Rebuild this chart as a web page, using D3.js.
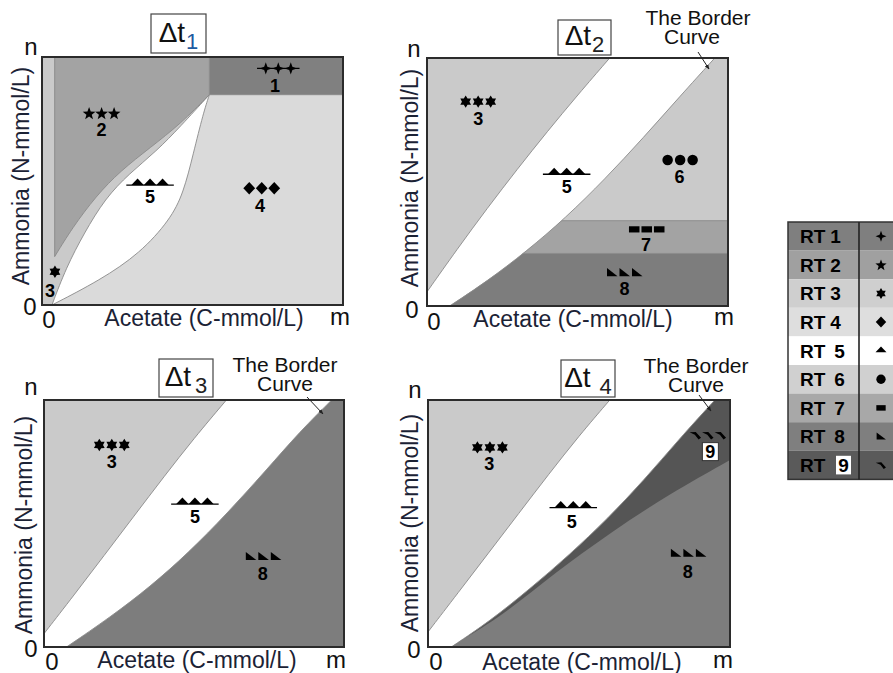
<!DOCTYPE html>
<html><head><meta charset="utf-8">
<script src="https://cdn.jsdelivr.net/npm/d3@7"></script>
<style>body{margin:0;background:#fff}svg{display:block;font-family:"Liberation Sans",Arial,Helvetica,sans-serif}</style>
</head><body><svg id="c" width="893" height="673"></svg>
<script>
// ---------------- DATA (in fractions of m and n) ----------------
const regimes = ["RT 1","RT 2","RT 3","RT 4","RT 5","RT 6","RT 7","RT 8","RT 9"];
const regimeGlyphs = ["sparkle","star","hexagram","diamond","triangle","circle","square","wedge","fin"];
const panelSubscripts = ["1","2","3","4"];
const xAxisLabel = "Acetate (C-mmol/L)";
const yAxisLabel = "Ammonia (N-mmol/L)";
const xTickLabels = ["0","m"];
const yTickLabels = ["0","n"];
const borderCurveLabel = ["The Border","Curve"];

// Δt1 boundaries
const p1_rt1Corner = [0.556, 0.848];
const p1_stripX = 0.042;
const p1_rt2Lower = [[0.042,0.195],[0.10,0.31],[0.18,0.44],[0.26,0.54],[0.36,0.635],[0.46,0.73],[0.556,0.848]];
const p1_lensUpper = [[0.033,0.0],[0.08,0.15],[0.14,0.29],[0.21,0.43],[0.29,0.53],[0.38,0.62],[0.46,0.72],[0.556,0.848]];
const p1_lensLower = [[0.033,0.0],[0.193,0.10],[0.326,0.209],[0.425,0.343],[0.47,0.451],[0.503,0.612],[0.536,0.774],[0.556,0.848]];
// Δt2 boundaries
const p2_rt3Bound = [[0,0.057],[0.1,0.229],[0.2,0.394],[0.3,0.552],[0.4,0.704],[0.5,0.85],[0.607,1.0]];
const p2_border = [[0.075,0],[0.2,0.1],[0.33,0.22],[0.46,0.355],[0.59,0.51],[0.72,0.68],[0.84,0.845],[0.956,1.0]];
const p2_rt7Band = [0.212, 0.344];
// Δt3 boundaries
const p3_rt3Bound = [[0,0.054],[0.1,0.21],[0.2,0.37],[0.3,0.53],[0.4,0.69],[0.5,0.845],[0.608,1.0]];
const p3_border = [[0.075,0],[0.22,0.12],[0.355,0.245],[0.48,0.38],[0.61,0.54],[0.74,0.715],[0.855,0.875],[0.959,1.0]];
// Δt4 boundaries
const p4_rt3Bound = [[0,0.061],[0.1,0.22],[0.2,0.38],[0.3,0.54],[0.4,0.70],[0.5,0.855],[0.602,1.0]];
const p4_border = [[0.077,0],[0.205,0.105],[0.337,0.235],[0.47,0.375],[0.595,0.52],[0.715,0.675],[0.83,0.84],[0.95,1.0]];
const p4_rt8Upper = [[0.10,0.02],[0.25,0.13],[0.42,0.30],[0.60,0.46],[0.80,0.62],[1.0,0.757]];

// regime labels: [regime, count, markerX, markerY, numberX, numberY]
const p1_labels = [[1,3,0.785,0.954,0.774,0.883],[2,3,0.198,0.773,0.198,0.706],[5,3,0.359,0.491,0.359,0.437],[4,3,0.73,0.471,0.724,0.403],[3,1,0.043,0.134,0.027,0.06]];
const p2_labels = [[3,3,0.17,0.824,0.17,0.757],[5,3,0.464,0.539,0.464,0.481],[6,3,0.841,0.589,0.839,0.521],[7,3,0.73,0.309,0.728,0.246],[8,3,0.656,0.134,0.656,0.071]];
const p3_labels = [[3,3,0.226,0.818,0.226,0.75],[5,3,0.503,0.586,0.503,0.528],[8,3,0.731,0.366,0.729,0.298]];
const p4_labels = [[3,3,0.205,0.808,0.203,0.744],[5,3,0.481,0.572,0.476,0.507],[8,3,0.862,0.379,0.86,0.305],[9,3,0.927,0.858,0.935,0.791]];

// ---------------- STYLE / LAYOUT ----------------
const fillOf = {1:"#808080",2:"#a3a3a3",3:"#cacaca",4:"#dadada",5:"#ffffff",6:"#cacaca",7:"#a3a3a3",8:"#7d7d7d",9:"#555555"};
const legendFill = {1:"#7f7f7f",2:"#a0a0a0",3:"#cfcfcf",4:"#dedede",5:"#ffffff",6:"#d0d0d0",7:"#a8a8a8",8:"#7f7f7f",9:"#5a5a5a"};
const layout = [
  {rect:[42,57,301,248], box:[151,14,55,39], subColor:"#1e5aa0", subGap:1,
   yl:[29,176], xl:[204,326], n:[31,55], z1:[30,315], z2:[49,328], m:[340,325], border:null},
  {rect:[427,58,301,248], box:[558,20,53,35], subColor:"#222", subGap:1,
   yl:[418,178], xl:[573,327], n:[414,57], z1:[412,318], z2:[434,330], m:[724,325],
   border:{t:[698,25,692,44], a:[698,52,709,69]}},
  {rect:[44,400,300,247], box:[159,359,54,38], subColor:"#222", subGap:4,
   yl:[32,525], xl:[197,668], n:[31,395], z1:[31,657], z2:[52,670], m:[336,668],
   border:{t:[285,372,285,391], a:[307,397,323,414]}},
  {rect:[428,400,302,247], box:[561,360,54,37], subColor:"#222", subGap:9,
   yl:[418,523], xl:[582,670], n:[415,398], z1:[414,658], z2:[436,670], m:[723,668],
   border:{t:[696,373,696,392], a:[699,395,711,411]}}
];
const axisColor = "#1b2235";
const edgeStroke = "#8a8a8a";

const svg = d3.select("#c");
const defs = svg.append("defs");
defs.append("marker").attr("id","arr").attr("viewBox","0 0 10 10").attr("refX",9).attr("refY",5)
  .attr("markerWidth",5).attr("markerHeight",5).attr("orient","auto")
  .append("path").attr("d","M0,1L10,5L0,9Z").attr("fill","#222");

function scales(r){
  return {x:d3.scaleLinear([0,1],[r[0],r[0]+r[2]]), y:d3.scaleLinear([0,1],[r[1]+r[3],r[1]])};
}
function ring(s, pieces){
  return pieces.map((pc,i)=>{
    const g = d3.line().x(d=>s.x(d[0])).y(d=>s.y(d[1]))
      .curve(pc.smooth ? d3.curveBasis : d3.curveLinear);
    const str = g(pc.pts);
    return i ? str.replace(/^M/,"L") : str;
  }).join("") + "Z";
}
function open(s, pts, smooth){
  return d3.line().x(d=>s.x(d[0])).y(d=>s.y(d[1]))
    .curve(smooth ? d3.curveBasis : d3.curveLinear)(pts);
}
function poly(p, pts){ p.moveTo(pts[0][0],pts[0][1]); pts.slice(1).forEach(q=>p.lineTo(q[0],q[1])); p.closePath(); }
function glyph(kind, r){
  const p = d3.path();
  if(kind==="sparkle"){ const a=r*0.26; poly(p,[[0,-r],[a,-a],[r,0],[a,a],[0,r],[-a,a],[-r,0],[-a,-a]]); }
  else if(kind==="star"){ const pts=[]; const R=r*1.08; for(let i=0;i<10;i++){const ang=-Math.PI/2+i*Math.PI/5, rr=i%2?R*0.42:R; pts.push([rr*Math.cos(ang),rr*Math.sin(ang)+r*0.08]);} poly(p,pts); }
  else if(kind==="hexagram"){ const pts=[]; for(let i=0;i<12;i++){const ang=-Math.PI/2+i*Math.PI/6, rr=i%2?r*0.6:r; pts.push([rr*Math.cos(ang),rr*Math.sin(ang)]);} poly(p,pts); }
  else if(kind==="diamond"){ poly(p,[[0,-r],[r*0.95,0],[0,r],[-r*0.95,0]]); }
  else if(kind==="triangle"){ poly(p,[[-r,r*0.3],[0,-r*0.75],[r,r*0.3]]); }
  else if(kind==="circle"){ p.arc(0,0,r*0.85,0,2*Math.PI); }
  else if(kind==="square"){ p.rect(-r*0.85,-r*0.5,r*1.7,r*1.0); }
  else if(kind==="wedge"){ poly(p,[[-r*0.8,-r*0.75],[-r*0.8,r*0.55],[r*0.9,r*0.55]]); }
  else if(kind==="fin"){ poly(p,[[-r*0.95,-r*0.45],[r*0.05,-r*0.5],[r*0.9,r*0.45],[r*0.5,r*0.7],[-r*0.1,-r*0.05]]); }
  return p.toString();
}
function markerSet(g, cx, cy, rt, count){
  const kind = regimeGlyphs[rt-1], sp = 12.5, r = 6.2;
  if(rt===1 && count>1) g.append("line").attr("x1",cx-1.7*sp).attr("x2",cx+1.7*sp).attr("y1",cy).attr("y2",cy).attr("stroke","#000").attr("stroke-width",1.4);
  if(rt===5 && count>1) g.append("line").attr("x1",cx-1.9*sp).attr("x2",cx+1.9*sp).attr("y1",cy+r*0.3).attr("y2",cy+r*0.3).attr("stroke","#000").attr("stroke-width",1.4);
  for(let k=0;k<count;k++){
    const dx = (k-(count-1)/2)*sp;
    g.append("path").attr("d",glyph(kind,r)).attr("transform",`translate(${cx+dx},${cy})`).attr("fill","#000");
  }
}
function regimeLabels(g, s, labels){
  labels.forEach(([rt,count,mx,my,tx,ty])=>{
    markerSet(g, s.x(mx), s.y(my), rt, count);
    if(rt===9){
      g.append("rect").attr("x",s.x(tx)-8).attr("y",s.y(ty)-9).attr("width",16).attr("height",18)
        .attr("fill","#fff").attr("stroke","#333").attr("stroke-width",1);
    }
    g.append("text").attr("x",s.x(tx)).attr("y",s.y(ty)).attr("dy","0.36em").attr("text-anchor","middle")
      .attr("font-size",18).attr("font-weight","bold").attr("fill","#000").text(String(rt));
  });
}
function frame(i){
  const L = layout[i], r = L.rect, s = scales(r);
  const g = svg.append("g");
  const cid = "clip"+i;
  defs.append("clipPath").attr("id",cid).append("rect").attr("x",r[0]).attr("y",r[1]).attr("width",r[2]).attr("height",r[3]);
  const plot = g.append("g").attr("clip-path",`url(#${cid})`);
  return {L, r, s, g, plot};
}
function decorations(i, P){
  const {L, r, g} = P;
  g.append("rect").attr("x",r[0]).attr("y",r[1]).attr("width",r[2]).attr("height",r[3])
    .attr("fill","none").attr("stroke","#2b2b2b").attr("stroke-width",2);
  const b = L.box;
  g.append("rect").attr("x",b[0]).attr("y",b[1]).attr("width",b[2]).attr("height",b[3])
    .attr("fill","#fff").attr("stroke","#444").attr("stroke-width",1.2);
  const t = g.append("text").attr("x",b[0]+b[2]/2).attr("y",b[1]+b[3]*0.72).attr("text-anchor","middle").attr("fill","#111");
  t.append("tspan").attr("font-size",28).text("Δt");
  t.append("tspan").attr("font-size",22).attr("dx",L.subGap).attr("dy",7).attr("fill",L.subColor).text(panelSubscripts[i]);
  g.append("text").attr("transform",`translate(${L.yl[0]},${L.yl[1]}) rotate(-90)`).attr("text-anchor","middle")
    .attr("font-size",23).attr("fill",axisColor).text(yAxisLabel);
  g.append("text").attr("x",L.xl[0]).attr("y",L.xl[1]).attr("text-anchor","middle")
    .attr("font-size",23).attr("fill",axisColor).text(xAxisLabel);
  g.append("text").attr("x",L.n[0]).attr("y",L.n[1]).attr("text-anchor","middle").attr("font-size",24).attr("fill","#111").text(yTickLabels[1]);
  g.append("text").attr("x",L.z1[0]).attr("y",L.z1[1]).attr("text-anchor","middle").attr("font-size",24).attr("fill","#111").text(yTickLabels[0]);
  g.append("text").attr("x",L.z2[0]).attr("y",L.z2[1]).attr("text-anchor","middle").attr("font-size",24).attr("fill","#111").text(xTickLabels[0]);
  g.append("text").attr("x",L.m[0]).attr("y",L.m[1]).attr("text-anchor","middle").attr("font-size",24).attr("fill","#111").text(xTickLabels[1]);
  if(L.border){
    const bt = L.border.t, a = L.border.a;
    g.append("text").attr("x",bt[0]).attr("y",bt[1]).attr("text-anchor","middle").attr("font-size",21).attr("fill","#111").text(borderCurveLabel[0]);
    g.append("text").attr("x",bt[2]).attr("y",bt[3]).attr("text-anchor","middle").attr("font-size",21).attr("fill","#111").text(borderCurveLabel[1]);
    g.append("line").attr("x1",a[0]).attr("y1",a[1]).attr("x2",a[2]).attr("y2",a[3])
      .attr("stroke","#222").attr("stroke-width",1).attr("marker-end","url(#arr)");
  }
}
function strokeCurve(plot, s, pts, smooth){
  plot.append("path").attr("d",open(s,pts,smooth)).attr("fill","none").attr("stroke",edgeStroke).attr("stroke-width",0.9);
}

// ---------- Panel Δt1 ----------
(function(){
  const P = frame(0), s = P.s, pl = P.plot;
  const c = p1_rt1Corner;
  pl.append("rect").attr("x",P.r[0]).attr("y",P.r[1]).attr("width",P.r[2]).attr("height",P.r[3]).attr("fill",fillOf[4]);
  pl.append("path").attr("fill",fillOf[3]).attr("d",ring(s,[{pts:p1_lensUpper,smooth:true},{pts:[c,[c[0],1],[0,1],[0,0]]}]));
  pl.append("path").attr("fill",fillOf[2]).attr("d",ring(s,[{pts:p1_rt2Lower,smooth:true},{pts:[c,[c[0],1],[p1_stripX,1]]}]));
  pl.append("path").attr("fill",fillOf[1]).attr("d",ring(s,[{pts:[c,[1,c[1]],[1,1],[c[0],1]]}]));
  pl.append("path").attr("fill",fillOf[5]).attr("d",ring(s,[{pts:p1_lensUpper,smooth:true},{pts:p1_lensLower.slice().reverse(),smooth:true}]));
  strokeCurve(pl,s,p1_rt2Lower,true);
  strokeCurve(pl,s,p1_lensUpper,true);
  strokeCurve(pl,s,p1_lensLower,true);
  strokeCurve(pl,s,[[p1_stripX,p1_rt2Lower[0][1]],[p1_stripX,1]],false);
  strokeCurve(pl,s,[[c[0],1],c,[1,c[1]]],false);
  regimeLabels(P.g,s,p1_labels);
  decorations(0,P);
})();

// ---------- Panel Δt2 ----------
(function(){
  const P = frame(1), s = P.s, pl = P.plot;
  pl.append("rect").attr("x",P.r[0]).attr("y",P.r[1]).attr("width",P.r[2]).attr("height",P.r[3]).attr("fill",fillOf[5]);
  const last3 = p2_rt3Bound[p2_rt3Bound.length-1];
  pl.append("path").attr("fill",fillOf[3]).attr("d",ring(s,[{pts:p2_rt3Bound,smooth:true},{pts:[last3,[0,1]]}]));
  const lb = p2_border[p2_border.length-1];
  const rightD = ring(s,[{pts:p2_border,smooth:true},{pts:[lb,[1,1],[1,0]]}]);
  defs.append("clipPath").attr("id","right2").append("path").attr("d",rightD);
  pl.append("path").attr("fill",fillOf[6]).attr("d",rightD);
  const rg = pl.append("g").attr("clip-path","url(#right2)");
  rg.append("path").attr("fill",fillOf[7]).attr("d",ring(s,[{pts:[[0,p2_rt7Band[0]],[1,p2_rt7Band[0]],[1,p2_rt7Band[1]],[0,p2_rt7Band[1]]]}]));
  rg.append("path").attr("fill",fillOf[8]).attr("d",ring(s,[{pts:[[0,0],[1,0],[1,p2_rt7Band[0]],[0,p2_rt7Band[0]]]}]));
  rg.append("path").attr("d",open(s,[[0,p2_rt7Band[0]],[1,p2_rt7Band[0]]])).attr("stroke",edgeStroke).attr("stroke-width",0.9);
  rg.append("path").attr("d",open(s,[[0,p2_rt7Band[1]],[1,p2_rt7Band[1]]])).attr("stroke",edgeStroke).attr("stroke-width",0.9);
  strokeCurve(pl,s,p2_rt3Bound,true);
  strokeCurve(pl,s,p2_border,true);
  regimeLabels(P.g,s,p2_labels);
  decorations(1,P);
})();

// ---------- Panel Δt3 ----------
(function(){
  const P = frame(2), s = P.s, pl = P.plot;
  pl.append("rect").attr("x",P.r[0]).attr("y",P.r[1]).attr("width",P.r[2]).attr("height",P.r[3]).attr("fill",fillOf[5]);
  const last3 = p3_rt3Bound[p3_rt3Bound.length-1];
  pl.append("path").attr("fill",fillOf[3]).attr("d",ring(s,[{pts:p3_rt3Bound,smooth:true},{pts:[last3,[0,1]]}]));
  const lb = p3_border[p3_border.length-1];
  pl.append("path").attr("fill",fillOf[8]).attr("d",ring(s,[{pts:p3_border,smooth:true},{pts:[lb,[1,1],[1,0]]}]));
  strokeCurve(pl,s,p3_rt3Bound,true);
  strokeCurve(pl,s,p3_border,true);
  regimeLabels(P.g,s,p3_labels);
  decorations(2,P);
})();

// ---------- Panel Δt4 ----------
(function(){
  const P = frame(3), s = P.s, pl = P.plot;
  pl.append("rect").attr("x",P.r[0]).attr("y",P.r[1]).attr("width",P.r[2]).attr("height",P.r[3]).attr("fill",fillOf[5]);
  const last3 = p4_rt3Bound[p4_rt3Bound.length-1];
  pl.append("path").attr("fill",fillOf[3]).attr("d",ring(s,[{pts:p4_rt3Bound,smooth:true},{pts:[last3,[0,1]]}]));
  const lb = p4_border[p4_border.length-1];
  const rightD = ring(s,[{pts:p4_border,smooth:true},{pts:[lb,[1,1],[1,0]]}]);
  defs.append("clipPath").attr("id","right4").append("path").attr("d",rightD);
  pl.append("path").attr("fill",fillOf[9]).attr("d",rightD);
  const rg = pl.append("g").attr("clip-path","url(#right4)");
  const l8 = p4_rt8Upper[p4_rt8Upper.length-1];
  rg.append("path").attr("fill",fillOf[8]).attr("d",ring(s,[{pts:p4_rt8Upper,smooth:true},{pts:[l8,[1,0],[0,0]]}]));
  strokeCurve(pl,s,p4_rt3Bound,true);
  strokeCurve(pl,s,p4_border,true);
  regimeLabels(P.g,s,p4_labels);
  decorations(3,P);
})();

// ---------- Legend ----------
(function(){
  const lx = 788, ly = 222, rowH = 28.6, divX = 859, rx = 900;
  const y = d3.scaleBand().domain(regimes).range([ly, ly+rowH*regimes.length]);
  const g = svg.append("g");
  regimes.forEach((name,i)=>{
    const y0 = y(name), rt = i+1;
    g.append("rect").attr("x",lx).attr("y",y0).attr("width",rx-lx).attr("height",y.bandwidth()).attr("fill",legendFill[rt]);
    const parts = name.split(" ");
    const t = g.append("text").attr("x",lx+12).attr("y",y0+y.bandwidth()/2).attr("dy","0.36em")
      .attr("font-size",19).attr("font-weight","bold").attr("fill","#000");
    if(rt===9){
      t.text(parts[0]+" ");
      g.append("rect").attr("x",836).attr("y",y0+5).attr("width",15).attr("height",y.bandwidth()-10).attr("fill","#fff");
      g.append("text").attr("x",843.5).attr("y",y0+y.bandwidth()/2).attr("dy","0.36em").attr("text-anchor","middle")
        .attr("font-size",19).attr("font-weight","bold").attr("fill","#000").text(parts[1]);
    } else {
      t.append("tspan").text(parts[0]);
      t.append("tspan").attr("dx", rt>=5 ? 9 : 5).text(parts[1]);
    }
    g.append("path").attr("d",glyph(regimeGlyphs[i],5.5)).attr("transform",`translate(881,${y0+y.bandwidth()/2})`).attr("fill","#000");
  });
  g.append("rect").attr("x",lx).attr("y",ly).attr("width",rx-lx).attr("height",rowH*regimes.length)
    .attr("fill","none").attr("stroke","#333").attr("stroke-width",1.5);
  g.append("line").attr("x1",divX).attr("x2",divX).attr("y1",ly).attr("y2",ly+rowH*regimes.length).attr("stroke","#222").attr("stroke-width",1.6);
})();
</script></body></html>
